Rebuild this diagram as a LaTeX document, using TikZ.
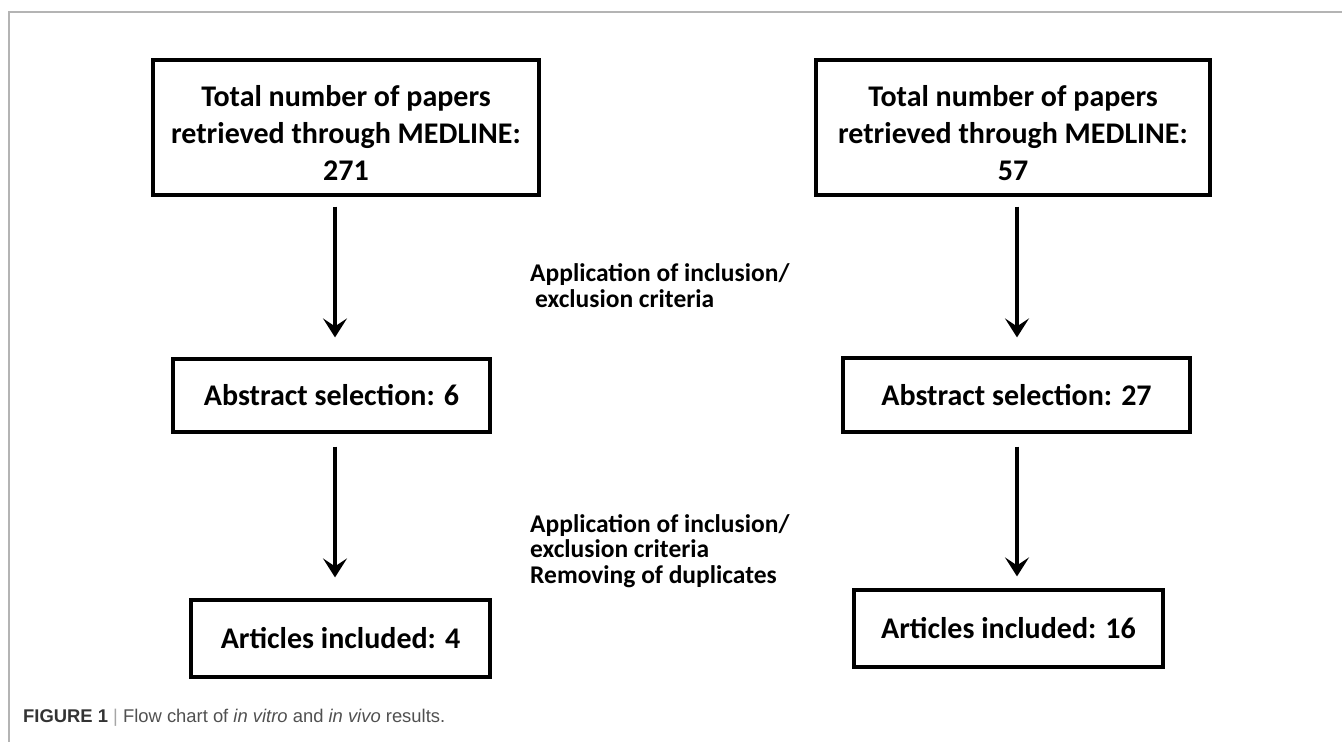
\documentclass[tikz,border=0pt]{standalone}
\usepackage{fontspec}
\setmainfont{Carlito}
\newfontfamily\capfont{Liberation Sans}
\usepackage{tikz}
\usetikzlibrary{positioning, arrows.meta}
\usepackage{xcolor}
\definecolor{framegray}{HTML}{B4B4B4}
\definecolor{capgray}{HTML}{505050}

\begin{document}
\begin{tikzpicture}[x=1pt, y=-1pt,
        box/.style={draw, rectangle, line width=3.2pt, align=center, inner sep=0pt,
            font=\bfseries\fontsize{30}{37}\selectfont},
        note/.style={align=left, anchor=base west, inner sep=0pt,
            font=\bfseries\fontsize{25.5}{25.5}\selectfont},
        flow/.style={line width=3.6pt, -{Stealth[length=19pt, width=24pt, inset=8pt]}}]
        \useasboundingbox (0,0) rectangle (1342,742);

        % Frame
        \draw[framegray, line width=1.3pt] (1342,12) -- (9,12) -- (9,742);

        % Left column
        \node[box, minimum width=386pt, minimum height=135pt] (tl) at (346,127.5)
            {\rule{0pt}{32pt}Total number of papers\\retrieved through MEDLINE:\\271};
        \node[box, minimum width=317pt, minimum height=73pt] (ml) at (331.5,395.5)
            {Abstract selection: 6};
        \node[box, minimum width=299pt, minimum height=77pt] (bl) at (340.5,638.5)
            {Articles included: 4};

        % Right column
        \node[box, minimum width=394pt, minimum height=135pt] (tr) at (1013,127.5)
            {\rule{0pt}{32pt}Total number of papers\\retrieved through MEDLINE:\\57};
        \node[box, minimum width=347pt, minimum height=74pt] (mr) at (1016.5,395)
            {Abstract selection: 27};
        \node[box, minimum width=309pt, minimum height=77pt] (br) at (1008.5,628.5)
            {Articles included: 16};

        % Criteria between the columns
        \node[note] (c1) at (530,307) {Application of inclusion/\\\hspace*{5pt}exclusion criteria};
        \node[note] (c2) at (530,583) {Application of inclusion/\\exclusion criteria\\Removing of duplicates};

        % Arrows
        \draw[flow, shorten <=10pt, shorten >=20pt] ([xshift=-11pt]tl.south) -- ([xshift=3.5pt]ml.north);
        \draw[flow, shorten <=10pt, shorten >=19pt] ([xshift=4pt]tr.south) -- ([xshift=0.5pt]mr.north);
        \draw[flow, shorten <=13pt, shorten >=21pt] ([xshift=3.5pt]ml.south) -- ([xshift=-5.5pt]bl.north);
        \draw[flow, shorten <=13pt, shorten >=12pt] ([xshift=0.5pt]mr.south) -- ([xshift=8.5pt]br.north);

        % Caption
        \node[anchor=west, inner sep=0pt, font=\capfont\fontsize{18.4}{21}\selectfont, text=capgray] (cap) at (23,718)
            {\textcolor{black!80}{\textbf{FIGURE 1}} \textcolor{black!35}{|} Flow chart of \textit{in vitro} and \textit{in vivo} results.};
    \end{tikzpicture}
\end{document}
